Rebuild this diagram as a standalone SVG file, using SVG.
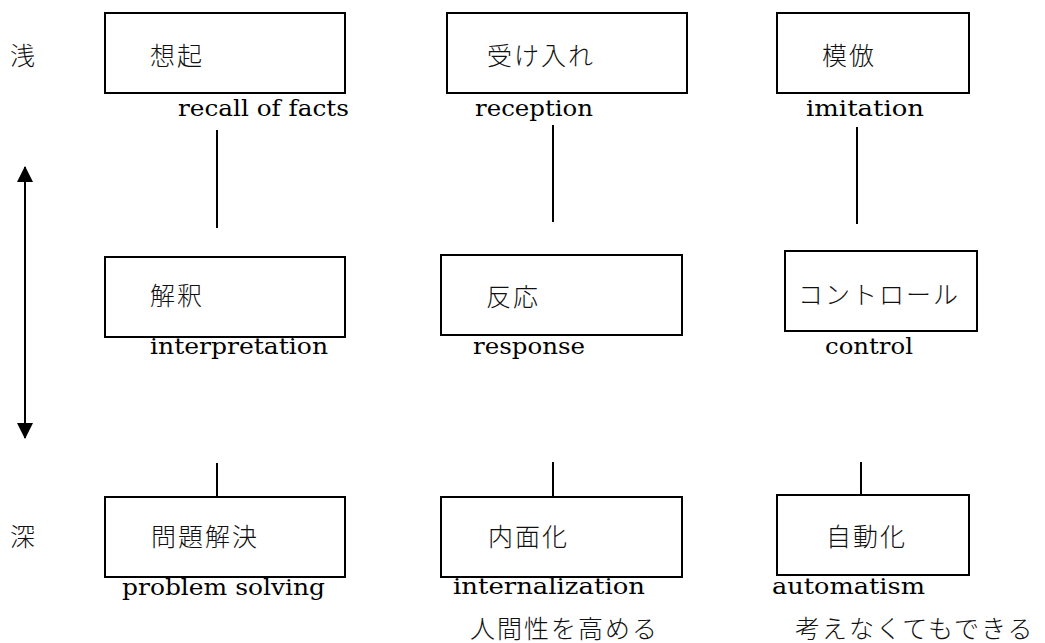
<svg xmlns="http://www.w3.org/2000/svg" width="1045" height="643" viewBox="0 0 1045 643">
<style>
.box{fill:#fff;stroke:#000;stroke-width:2}
.jp{font-family:"Noto Sans CJK JP","Noto Sans CJK SC",sans-serif;font-size:25px;letter-spacing:2px;fill:#111;font-weight:300}
.en{font-family:"DejaVu Serif","Liberation Serif",serif;font-size:22px;fill:#000}
.ln{stroke:#000;stroke-width:2;fill:none}
</style>
<defs>
<marker id="ah" markerUnits="userSpaceOnUse" markerWidth="16" markerHeight="16" viewBox="0 0 16 16" refX="15" refY="8" orient="auto-start-reverse">
<path d="M0,0 L16,8 L0,16 Z" fill="#000"/>
</marker>
</defs>
<g id="side-labels">
<text class="jp" x="10" y="65">浅</text>
<text class="jp" x="10" y="546">深</text>
</g>
<g id="connectors">
<line class="ln" x1="25" y1="167" x2="25" y2="438" marker-start="url(#ah)" marker-end="url(#ah)"/>
<line class="ln" x1="217" y1="130" x2="217" y2="228"/>
<line class="ln" x1="553" y1="125" x2="553" y2="222"/>
<line class="ln" x1="857" y1="127" x2="857" y2="224"/>
<line class="ln" x1="217" y1="463" x2="217" y2="557"/>
<line class="ln" x1="553" y1="462" x2="553" y2="555"/>
<line class="ln" x1="861" y1="462" x2="861" y2="552"/>
</g>
<g id="n-recall">
<rect class="box" x="105" y="13" width="240" height="80"/>
<text class="jp" x="150" y="65">想起</text>
<text class="en" x="178" y="116" textLength="171" lengthAdjust="spacingAndGlyphs">recall of facts</text>
</g>
<g id="n-reception">
<rect class="box" x="447" y="13" width="240" height="80"/>
<text class="jp" x="487" y="65">受け入れ</text>
<text class="en" x="475" y="116" textLength="118" lengthAdjust="spacingAndGlyphs">reception</text>
</g>
<g id="n-imitation">
<rect class="box" x="777" y="13" width="192" height="80"/>
<text class="jp" x="822" y="65">模倣</text>
<text class="en" x="806" y="116" textLength="118" lengthAdjust="spacingAndGlyphs">imitation</text>
</g>
<g id="n-interpretation">
<rect class="box" x="105" y="257" width="240" height="80"/>
<text class="jp" x="150" y="305">解釈</text>
<text class="en" x="150" y="354" textLength="178" lengthAdjust="spacingAndGlyphs">interpretation</text>
</g>
<g id="n-response">
<rect class="box" x="441" y="255" width="241" height="80"/>
<text class="jp" x="486" y="306">反応</text>
<text class="en" x="473" y="354" textLength="112" lengthAdjust="spacingAndGlyphs">response</text>
</g>
<g id="n-control">
<rect class="box" x="785" y="251" width="192" height="80"/>
<text class="jp" x="798" y="304">コントロール</text>
<text class="en" x="825" y="354" textLength="88" lengthAdjust="spacingAndGlyphs">control</text>
</g>
<g id="n-problem">
<rect class="box" x="105" y="497" width="240" height="80"/>
<text class="jp" x="151" y="546">問題解決</text>
<text class="en" x="122" y="595" textLength="203" lengthAdjust="spacingAndGlyphs">problem solving</text>
</g>
<g id="n-internalization">
<rect class="box" x="441" y="497" width="241" height="80"/>
<text class="jp" x="488" y="546">内面化</text>
<text class="en" x="453" y="594" textLength="192" lengthAdjust="spacingAndGlyphs">internalization</text>
<text class="jp" x="470" y="638">人間性を高める</text>
</g>
<g id="n-automatism">
<rect class="box" x="777" y="495" width="192" height="80"/>
<text class="jp" x="826" y="546">自動化</text>
<text class="en" x="772" y="594" textLength="153" lengthAdjust="spacingAndGlyphs">automatism</text>
<text class="jp" x="795" y="638">考えなくてもできる</text>
</g>
</svg>
